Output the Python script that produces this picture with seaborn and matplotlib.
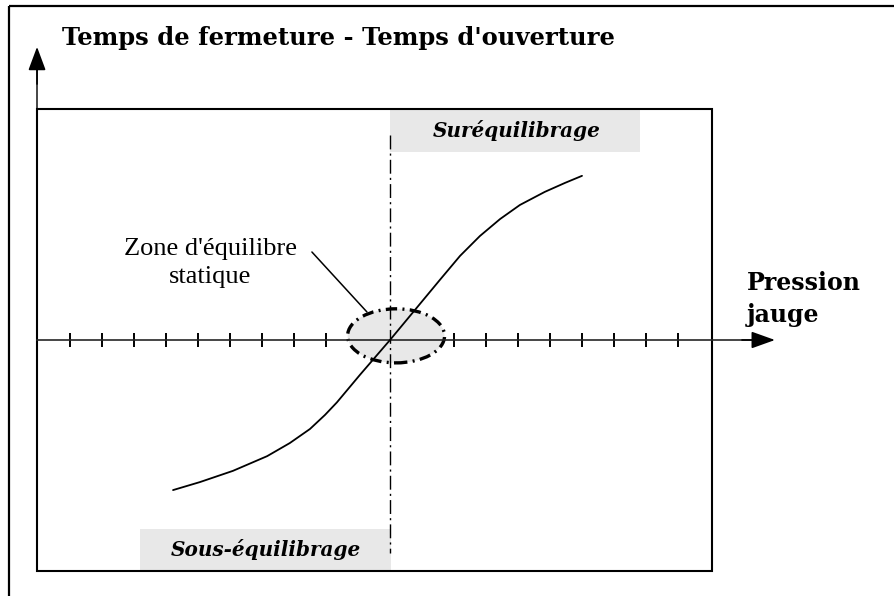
import matplotlib
matplotlib.use("Agg")
import matplotlib.pyplot as plt
from matplotlib.patches import Rectangle, Ellipse
import seaborn as sns
import pandas as pd

# ---- data (units: one tick = 1) ----
curve_x = [-6.78, -5.94, -4.91, -3.84, -3.13, -2.50, -2.03, -1.66, -0.94, 0.00,
           0.78, 1.56, 2.19, 2.81, 3.44, 4.06, 4.84, 5.47, 6.00]
curve_y = [-4.69, -4.44, -4.09, -3.63, -3.22, -2.78, -2.34, -1.95, -1.09, 0.00,
           0.94, 1.88, 2.63, 3.25, 3.78, 4.22, 4.63, 4.91, 5.13]
tick_positions = [-10, -9, -8, -7, -6, -5, -4, -3, -2, -1, 0, 1, 2, 3, 4, 5, 6, 7, 8, 9]

title_text = "Temps de fermeture - Temps d'ouverture"
xlabel_lines = ["Pression", "jauge"]
zone_lines = ["Zone d'équilibre", "statique"]
over_label = "Suréquilibrage"
under_label = "Sous-équilibrage"

sns.set_style("white")
plt.rcParams['font.family'] = ['DejaVu Serif', 'DejaVu Sans']
plt.rcParams['text.color'] = 'black'

fig = plt.figure(figsize=(8.94, 5.96), dpi=100)
ax = fig.add_axes([0, 0, 1, 1])
ax.set_xlim(-12.1875, 15.75)
ax.set_ylim(-8.0, 10.625)
ax.set_facecolor('white')

X_LEFT, X_RIGHT, Y_TOP, Y_BOT = -11.03, 10.06, 7.22, -7.22

# outer frame (top and left only)
ax.plot([-11.906, 15.75], [10.44, 10.44], color='black', lw=1.6, solid_capstyle='butt', zorder=2)
ax.plot([-11.906, -11.906], [-8.0, 10.44], color='black', lw=1.6, solid_capstyle='butt', zorder=2)

# inner box
ax.add_patch(Rectangle((X_LEFT, Y_BOT), X_RIGHT - X_LEFT, Y_TOP - Y_BOT,
                       fill=False, ec='black', lw=1.5, zorder=3))

# grey label boxes
ax.add_patch(Rectangle((0.0, 5.88), 7.81, 1.31, fc='#e8e8e8', ec='none', zorder=1))
ax.add_patch(Rectangle((-7.81, -7.19), 7.84, 1.28, fc='#e8e8e8', ec='none', zorder=1))

# ellipse zone
ax.add_patch(Ellipse((0.19, 0.13), 3.03, 1.69, fc='#e8e8e8', ec='black', lw=2.4,
                     ls=(0, (3.4, 1.6, 0.6, 1.6)), zorder=2))

# vertical dash-dot
ax.plot([0, 0], [6.4, -6.66], color='black', lw=1.0, ls=(0, (10, 3, 1.5, 3)), zorder=4)

# spines as the axes
for s in ['top', 'right']:
    ax.spines[s].set_visible(False)
ax.spines['bottom'].set_position(('data', 0))
ax.spines['bottom'].set_bounds(X_LEFT, 11.6)
ax.spines['bottom'].set_linewidth(1.2)
ax.spines['bottom'].set_zorder(3)
ax.spines['left'].set_position(('data', X_LEFT))
ax.spines['left'].set_bounds(Y_BOT, 8.8)
ax.spines['left'].set_linewidth(1.2)
ax.set_xticks(tick_positions)
ax.set_yticks([])
ax.tick_params(axis='x', direction='inout', length=9.5, width=1.4, colors='black',
               labelbottom=False, bottom=True)

# arrow heads
ax.annotate('', xy=(12.03, 0), xytext=(11.0, 0),
            arrowprops=dict(arrowstyle='-|>,head_length=1.45,head_width=0.52',
                            color='black', lw=1.2, shrinkA=0, shrinkB=0), zorder=5)
ax.annotate('', xy=(X_LEFT, 9.16), xytext=(X_LEFT, 8.0),
            arrowprops=dict(arrowstyle='-|>,head_length=1.45,head_width=0.54',
                            color='black', lw=1.2, shrinkA=0, shrinkB=0), zorder=5)

# curve
df = pd.DataFrame({'x': curve_x, 'y': curve_y})
sns.lineplot(data=df, x='x', y='y', sort=False, estimator=None, color='black',
             lw=1.3, ax=ax, zorder=6)
ax.set_xlabel('')
ax.set_ylabel('')

# leader line
ax.plot([-2.44, -0.72], [2.75, 0.875], color='black', lw=1.1, zorder=6)

# texts
ax.text(-10.25, 9.22, title_text, fontsize=17.5, fontweight='bold', family='DejaVu Serif',
        ha='left', va='baseline')
ax.text(11.16, 1.56, xlabel_lines[0], fontsize=17, fontweight='bold', family='DejaVu Serif',
        ha='left', va='baseline')
ax.text(11.16, 0.56, xlabel_lines[1], fontsize=17, fontweight='bold', family='DejaVu Serif',
        ha='left', va='baseline')
ax.text(3.97, 6.56, over_label, fontsize=14.4, fontweight='bold', style='italic',
        family='DejaVu Serif', ha='center', va='center')
ax.text(-3.875, -6.56, under_label, fontsize=14.4, fontweight='bold', style='italic',
        family='DejaVu Serif', ha='center', va='center')
ax.text(-5.625, 2.656, zone_lines[0], fontsize=19, family='Liberation Serif',
        ha='center', va='baseline')
ax.text(-5.625, 1.78, zone_lines[1], fontsize=19, family='Liberation Serif',
        ha='center', va='baseline')

fig.savefig('out.png', dpi=100)
